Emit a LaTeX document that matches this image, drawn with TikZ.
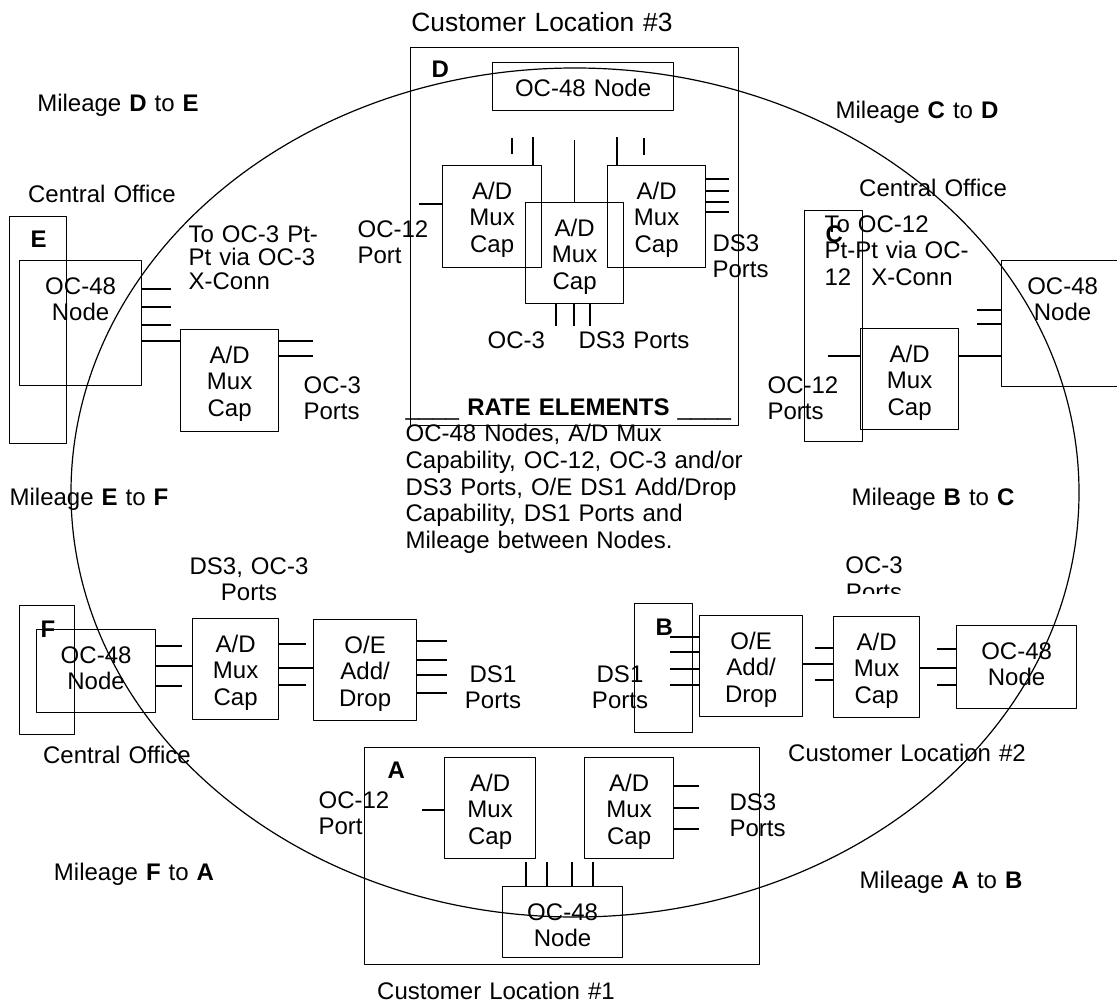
\documentclass[tikz,border=0pt]{standalone}
\usepackage{fontspec}
\setmainfont{Liberation Sans}
\begin{document}
\begin{tikzpicture}[x=1bp, y=-1bp, line width=1.2bp, line join=round,
	font=\fontsize{24.1}{26.8}\selectfont,
	frame/.style={draw, inner sep=0pt, anchor=north west},
	box/.style={draw, inner sep=0pt, anchor=north west, align=center, text height=33.4bp},
	lbl/.style={inner sep=0pt, anchor=base, text width=300bp, align=center},
	lbll/.style={inner sep=0pt, anchor=base west, text width=340bp, align=left}]
	\useasboundingbox (0,0) rectangle (1117,1002);
	% the ring
	\draw (575,492.5) ellipse [x radius=504bp, y radius=424.5bp];
	% Customer Location #3 (D)
	\node[frame, minimum width=328bp, minimum height=378bp] (dLoc) at (410,47) {};
	\node[box, text width=181bp, text depth=14.6bp] (dNode) at (492,62) {OC-48 Node};
	\node[box, text width=99bp, text depth=68.6bp] (dMuxL) at (442,165) {A/D\\Mux\\Cap};
	\node[box, text width=98bp, text depth=67.6bp] (dMuxM) at (525,202) {A/D\\Mux\\Cap};
	\node[box, text width=98bp, text depth=68.6bp] (dMuxR) at (607,165) {A/D\\Mux\\Cap};
	\draw (dMuxL.west |- 0,204) -- ++(-23,0);
	\foreach \y in {179,191,202,212} \draw (dMuxR.east |- 0,\y) -- ++(23,0);
	\foreach \x in {556,574,590} \draw (dMuxM.south -| \x,0) -- ++(0,22);
	\draw (dMuxL.north -| 533,0) -- ++(0,-28);
	\draw (dMuxM.north) -- ++(0,-62);
	\draw (dMuxR.north -| 617,0) -- ++(0,-28);
	\draw (512,138) -- (512,154);
	\draw (644,138) -- (644,155);
	\node[lbl, font=\fontsize{26.5}{30}\selectfont] (locThree) at (542,31) {Customer Location \#3};
	\node[lbll] (dName) at (431,77) {\textbf{D}};
	\node[lbll] (dPortL) at (357,237) {OC-12\\Port};
	\node[lbll] (dPortR) at (712,251) {DS3\\Ports};
	\node[lbll] (dPortOC) at (487,348) {OC-3};
	\node[lbll] (dPortDS) at (578,348) {DS3 Ports};
	% Central Office (E)
	\node[frame, minimum width=57bp, minimum height=227bp] (eCO) at (9,216) {};
	\node[box, text width=122bp, text depth=91.6bp] (eNode) at (19,260) {OC-48\\Node};
	\node[box, text width=98bp, text depth=68.6bp] (eMux) at (180,329) {A/D\\Mux\\Cap};
	\foreach \y in {289,307,325} \draw (eNode.east |- 0,\y) -- ++(29,0);
	\draw (eNode.east |- 0,341) -- (eMux.west |- 0,341);
	\foreach \y in {341,356} \draw (eMux.east |- 0,\y) -- ++(34,0);
	\node[lbl] (coE) at (102,202) {Central Office};
	\node[lbll] (eName) at (30,247) {\textbf{E}};
	\node[lbll, font=\fontsize{24.1}{24}\selectfont] (eXconn) at (188,242) {To OC-3 Pt-\\Pt via OC-3\\X-Conn};
	\node[lbll] (ePorts) at (303,393) {OC-3\\Ports};
	% Central Office (C)
	\node[frame, minimum width=58bp, minimum height=231bp] (cCO) at (804,210) {};
	\node[box, text width=122bp, text depth=92.6bp] (cNode) at (1001,260) {OC-48\\Node};
	\node[box, text width=98bp, text depth=67.6bp] (cMux) at (860,328) {A/D\\Mux\\Cap};
	\draw (cMux.west |- 0,356) -- ++(-32,0);
	\draw (cMux.east |- 0,356) -- (cNode.west |- 0,356);
	\foreach \y in {310,324} \draw (cNode.west |- 0,\y) -- ++(-24,0);
	\node[lbl] (coC) at (933,196) {Central Office};
	\node[lbll] (cName) at (825,242) {\textbf{C}};
	\node[lbll] (cXconn) at (824,232) {To OC-12\\Pt-Pt via OC-\\12\hspace*{20bp}X-Conn};
	\node[lbll] (cPorts) at (767,393) {OC-12\\Ports};
	% Central Office (F)
	\node[frame, minimum width=55bp, minimum height=129bp] (fCO) at (19,605) {};
	\node[box, text width=119bp, text depth=49.6bp] (fNode) at (36,629) {OC-48\\Node};
	\node[box, text width=86bp, text depth=67.6bp] (fMux) at (192,618) {A/D\\Mux\\Cap};
	\node[box, text width=103bp, text depth=67.6bp] (fAD) at (313,619) {O/E\\Add/\\Drop};
	\foreach \y in {646,686} \draw (fNode.east |- 0,\y) -- ++(26,0);
	\draw (fNode.east |- 0,666) -- (fMux.west |- 0,666);
	\foreach \y in {644,685} \draw (fMux.east |- 0,\y) -- ++(27,0);
	\draw (fMux.east |- 0,668) -- (fAD.west |- 0,668);
	\foreach \y in {641,660,675,693} \draw (fAD.east |- 0,\y) -- ++(30,0);
	\node[lbl] (coF) at (117,763) {Central Office};
	\node[lbll] (fName) at (40,637) {\textbf{F}};
	\node[lbl] (fPortsUp) at (249,574) {DS3, OC-3\\Ports};
	\node[lbl] (fPortsDS) at (493,682) {DS1\\Ports};
	% Customer Location #2 (B)
	\node[frame, minimum width=58bp, minimum height=129bp] (bLoc) at (634,603) {};
	\node[box, text width=103bp, text depth=67.6bp] (bAD) at (699,615) {O/E\\Add/\\Drop};
	\node[box, text width=86bp, text depth=67.6bp] (bMux) at (833,616) {A/D\\Mux\\Cap};
	\node[box, text width=120bp, text depth=49.6bp] (bNode) at (956,625) {OC-48\\Node};
	\foreach \y in {637,652,669,685} \draw (bAD.west |- 0,\y) -- ++(-29,0);
	\draw (bAD.east |- 0,664) -- (bMux.west |- 0,664);
	\foreach \y in {648,680} \draw (bMux.west |- 0,\y) -- ++(-18,0);
	\draw (bMux.east |- 0,668) -- (bNode.west |- 0,668);
	\foreach \y in {649,685} \draw (bNode.west |- 0,\y) -- ++(-19,0);
	\node[lbl] (locTwo) at (907,761) {Customer Location \#2};
	\node[lbll] (bName) at (655,635) {\textbf{B}};
	\node[lbl] (bPortsDS) at (620,682) {DS1\\Ports};
	\begin{scope}
		\clip (820,540) rectangle (930,593);
		\node[lbl] (bPortsOC) at (874,573.5) {OC-3\\Ports};
	\end{scope}
	% Customer Location #1 (A)
	\node[frame, minimum width=395bp, minimum height=217bp] (aLoc) at (364,747) {};
	\node[box, text width=91bp, text depth=67.6bp] (aMuxL) at (444,757) {A/D\\Mux\\Cap};
	\node[box, text width=89bp, text depth=67.6bp] (aMuxR) at (584,757) {A/D\\Mux\\Cap};
	\node[box, text width=120bp, text depth=37.6bp] (aNode) at (502,886) {OC-48\\Node};
	\draw (aMuxL.west |- 0,810) -- ++(-22,0);
	\foreach \y in {786,808,829} \draw (aMuxR.east |- 0,\y) -- ++(25,0);
	\foreach \x in {526,547,572,593} \draw (aNode.north -| \x,0) -- ++(0,-24);
	\node[lbl] (locOne) at (496,999) {Customer Location \#1};
	\node[lbll] (aName) at (387,778) {\textbf{A}};
	\node[lbll] (aPortL) at (318,808) {OC-12\\Port};
	\node[lbll] (aPortR) at (729,810) {DS3\\Ports};
	% mileage between nodes
	\node[lbl] (mileDE) at (118,111) {Mileage \textbf{D} to \textbf{E}};
	\node[lbl] (mileCD) at (917,118) {Mileage \textbf{C} to \textbf{D}};
	\node[lbl] (mileEF) at (89,505) {Mileage \textbf{E} to \textbf{F}};
	\node[lbl] (mileBC) at (933,505) {Mileage \textbf{B} to \textbf{C}};
	\node[lbl] (mileFA) at (134,880) {Mileage \textbf{F} to \textbf{A}};
	\node[lbl] (mileAB) at (941,888) {Mileage \textbf{A} to \textbf{B}};
	% rate elements
	\node[lbll] (rate) at (405,415) {\_\_\_\_ \textbf{RATE ELEMENTS} \_\_\_\_\\OC-48 Nodes, A/D Mux\\Capability, OC-12, OC-3 and/or\\DS3 Ports, O/E DS1 Add/Drop\\Capability, DS1 Ports and\\Mileage between Nodes.};
\end{tikzpicture}
\end{document}
